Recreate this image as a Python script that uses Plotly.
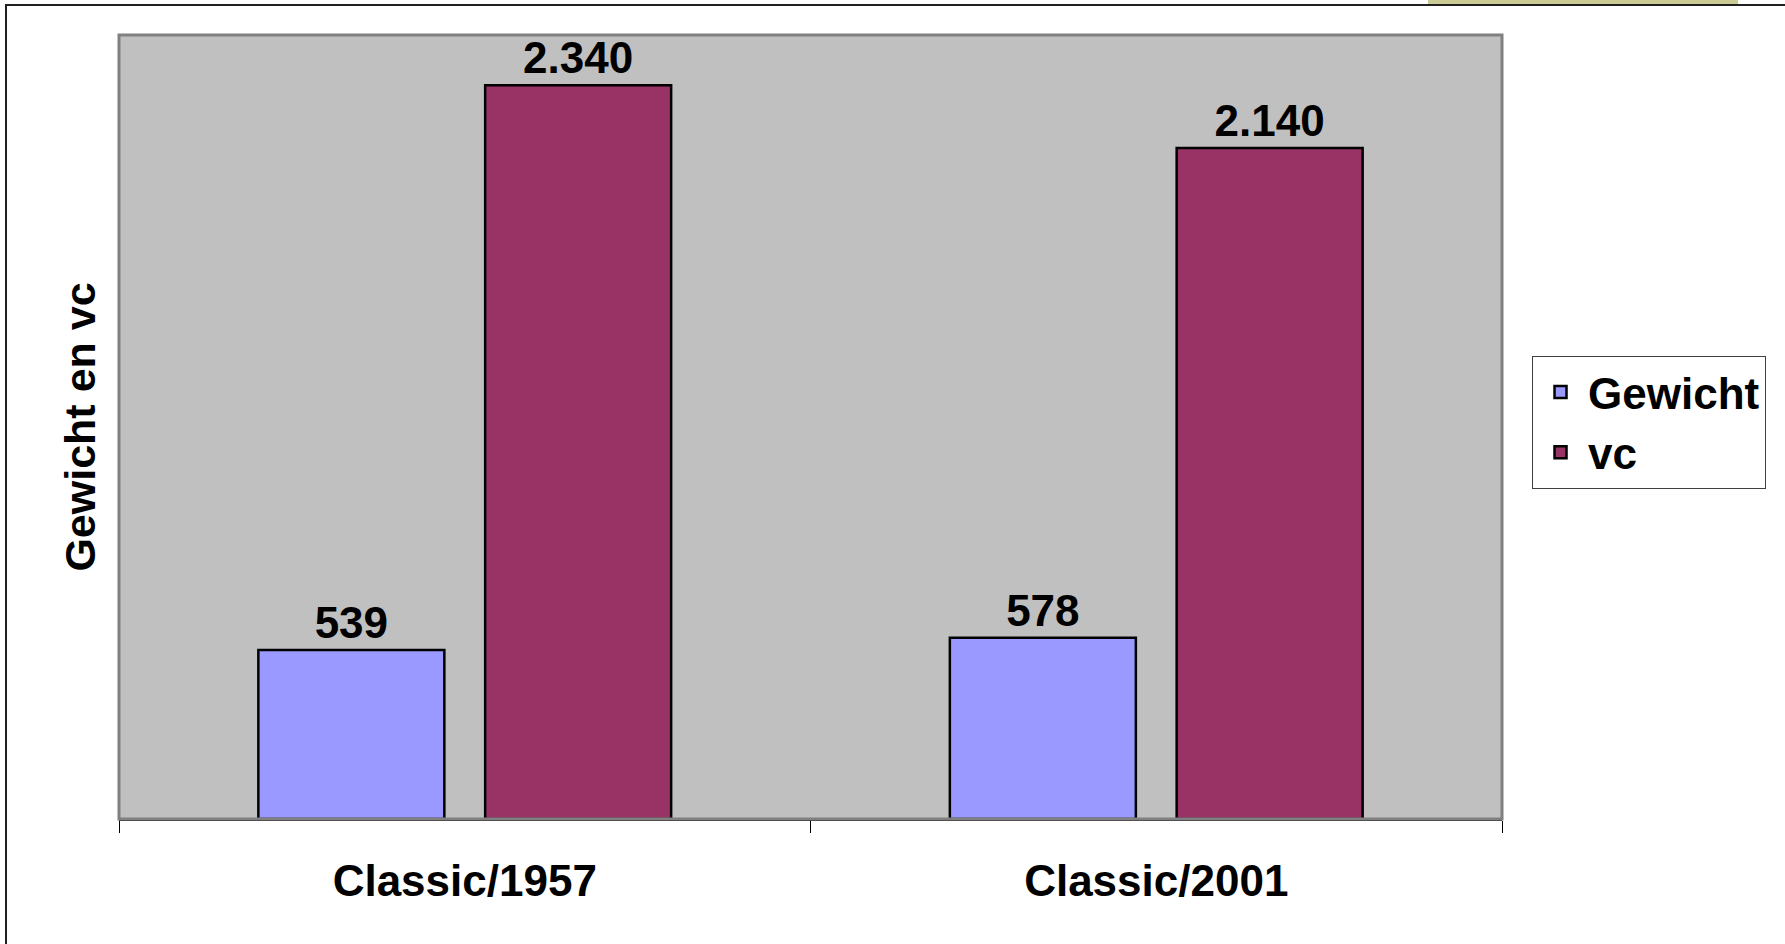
import plotly.graph_objects as go

categories = ["Classic/1957", "Classic/2001"]
gewicht = [539, 578]
vc = [2340, 2140]

font = "Arial, Liberation Sans, sans-serif"

fig = go.Figure()
fig.add_trace(go.Bar(x=categories, y=gewicht, name="Gewicht",
                     marker=dict(color="#9999FF", line=dict(color="black", width=2.5)),
                     texttemplate="%{y:,}", textposition="outside",
                     textfont=dict(size=44, color="black", family=font)))
fig.add_trace(go.Bar(x=categories, y=vc, name="vc",
                     marker=dict(color="#993366", line=dict(color="black", width=2.5)),
                     texttemplate="%{y:,}", textposition="outside",
                     textfont=dict(size=44, color="black", family=font)))

fig.update_traces(cliponaxis=False, textfont_weight="bold")

fig.update_layout(
    width=1785, height=944,
    margin=dict(l=119, r=283, t=35, b=125, autoexpand=False),
    paper_bgcolor="white",
    plot_bgcolor="#C0C0C0",
    separators=",.",
    barmode="group",
    bargap=0.344,
    bargroupgap=0.18,
    font=dict(family=font, color="black", size=44),
    showlegend=True,
    legend=dict(
        x=1.0217, y=0.5906, xanchor="left", yanchor="top",
        bgcolor="white", bordercolor="#404040", borderwidth=1,
        font=dict(size=44, family=font, weight="bold"),
        itemwidth=45,
    ),
    xaxis=dict(
        automargin=False,
        showgrid=False, ticks="outside", tickson="boundaries",
        ticklen=12, tickcolor="black", tickwidth=1,
        showline=True, linecolor="#202020", linewidth=2,
        tickfont=dict(size=44, family=font, weight="bold"),
        ticklabelstandoff=22,
    ),
    yaxis=dict(
        automargin=False,
        range=[0, 2500], showgrid=False, showticklabels=False,
        zeroline=False, ticks="",
        title=dict(text="<b>Gewicht en vc</b>", standoff=8,
                   font=dict(size=43, family=font)),
    ),
    shapes=[
        # plot area border
        dict(type="rect", xref="x domain", yref="y domain", x0=0, x1=1, y0=0, y1=1,
             line=dict(color="#808080", width=3), layer="above"),
        # outer chart border
        dict(type="rect", xref="paper", yref="paper", x0=-0.0817, x1=1.21, y0=-0.2, y1=1.0383,
             line=dict(color="#202020", width=2), layer="below"),
        # beige tab at top
        dict(type="rect", xref="paper", yref="paper", x0=0.9465, x1=1.1707, y0=1.0395, y1=1.046,
             fillcolor="#CBCB96", line=dict(width=0), layer="below"),
    ],
)

# drop the default 8px page margin so the figure sits at the window's corner
fig.write_html("out.html", config={"displayModeBar": False},
               post_script="document.body.style.margin='0';")
